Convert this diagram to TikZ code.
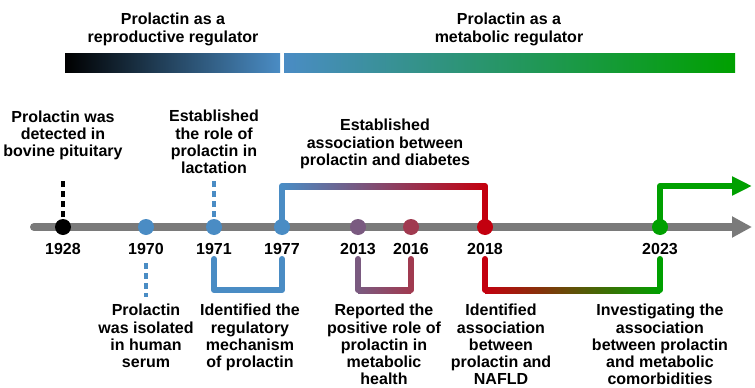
\documentclass[tikz,border=0pt]{standalone}
\usepackage{fontspec}
\setmainfont{Liberation Sans}
\usetikzlibrary{arrows.meta,calc}
\definecolor{cBlue}{RGB}{74,140,196}
\definecolor{cPurple}{RGB}{122,90,128}
\definecolor{cRose}{RGB}{160,58,80}
\definecolor{cMid}{RGB}{150,62,92}
\definecolor{cRed}{RGB}{195,0,15}
\definecolor{cGreen}{RGB}{0,160,0}
\definecolor{cGray}{RGB}{122,122,122}
\definecolor{cTeal}{RGB}{40,152,112}
\definecolor{cBrown}{RGB}{120,70,0}
\begin{document}
\begin{tikzpicture}[x=1pt,y=-1pt,
  dot/.style={circle,fill=#1,minimum size=16pt,inner sep=0pt},
  yr/.style={font=\fontsize{16}{16}\selectfont\bfseries,anchor=north,inner sep=0pt},
  txt/.style={font=\fontsize{16}{17.3}\selectfont\bfseries,align=center,anchor=north,inner sep=0pt},
  leg/.style={line width=6pt,line cap=round,line join=round,draw=#1},
  dsh/.style={line width=3.6pt,dash pattern=on 6pt off 4pt,draw=#1}]
\useasboundingbox (0,0) rectangle (755,388);
% top phase bars
\shade[left color=black,right color=cBlue] (65,53) rectangle (280,72);
\shade[left color=cBlue,middle color=cTeal,right color=cGreen] (284,53) rectangle (735,72);
\node[txt] (ph1) at (173,13) {Prolactin as a\\reproductive regulator};
\node[txt] (ph2) at (509,13) {Prolactin as a\\metabolic regulator};
% timeline
\coordinate (tlS) at (34,227);
\coordinate (tlE) at (752,227);
\draw[cGray,line width=8pt,line cap=round,-{Triangle[length=20pt,width=20pt]}] (tlS) -- (tlE);
% dot positions
\coordinate (p1928) at (63,227);
\coordinate (p1970) at (146,227);
\coordinate (p1971) at (214,227);
\coordinate (p1977) at (282,227);
\coordinate (p2013) at (358,227);
\coordinate (p2016) at (411,227);
\coordinate (p2018) at (485,227);
\coordinate (p2023) at (660,227);
% dashed markers
\draw[dsh=black] (p1928) -- ($(p1928)+(0,-46)$);
\draw[dsh=cBlue] (p1971) -- ($(p1971)+(0,-47)$);
\draw[dsh=cBlue] ($(p1970)+(0,36)$) -- ($(p1970)+(0,70)$);
% top bracket 1977-2018
\draw[leg=cBlue] (p1977) -- ($(p1977)+(0,-41)$);
\shade[left color=cBlue,middle color=cMid,right color=cRed] ($(p1977)+(0,-44)$) rectangle ($(p2018)+(0,-38)$);
\draw[leg=cRed] ($(p2018)+(0,-41)$) -- (p2018);
% green arrow
\coordinate (gEnd) at (752,186);
\draw[cGreen,line width=6pt,line join=round,-{Triangle[length=20pt,width=18pt]}] (p2023) |- (gEnd);
% bottom brackets
\draw[leg=cBlue] ($(p1971)+(0,32)$) -- ($(p1971)+(0,63)$) -- ($(p1977)+(0,63)$) -- ($(p1977)+(0,32)$);
\draw[leg=cPurple] ($(p2013)+(0,32)$) -- ($(p2013)+(0,63)$);
\draw[leg=cRose] ($(p2016)+(0,32)$) -- ($(p2016)+(0,63)$);
\shade[left color=cPurple,right color=cRose] ($(p2013)+(0,60)$) rectangle ($(p2016)+(0,66)$);
\draw[leg=cRed] ($(p2018)+(0,32)$) -- ($(p2018)+(0,63)$);
\draw[leg=cGreen] ($(p2023)+(0,32)$) -- ($(p2023)+(0,63)$);
\shade[left color=cRed,middle color=cBrown,right color=cGreen] ($(p2018)+(0,60)$) rectangle ($(p2023)+(0,66)$);
% dots
\node[dot=black] (d1928) at (p1928) {};
\node[dot=cBlue] (d1970) at (p1970) {};
\node[dot=cBlue] (d1971) at (p1971) {};
\node[dot=cBlue] (d1977) at (p1977) {};
\node[dot=cPurple] (d2013) at (p2013) {};
\node[dot=cRose] (d2016) at (p2016) {};
\node[dot=cRed] (d2018) at (p2018) {};
\node[dot=cGreen] (d2023) at (p2023) {};
% years
\node[yr] (y1928) at ($(p1928)+(0,16)$) {1928};
\node[yr] (y1970) at ($(p1970)+(0,16)$) {1970};
\node[yr] (y1971) at ($(p1971)+(0,16)$) {1971};
\node[yr] (y1977) at ($(p1977)+(0,16)$) {1977};
\node[yr] (y2013) at ($(p2013)+(0,16)$) {2013};
\node[yr] (y2016) at ($(p2016)+(0,16)$) {2016};
\node[yr] (y2018) at ($(p2018)+(0,16)$) {2018};
\node[yr] (y2023) at ($(p2023)+(0,16)$) {2023};
% event texts above
\node[txt] (e1928) at (63,110.5) {Prolactin was\\detected in\\bovine pituitary};
\node[txt] (e1971) at (214,110) {Established\\the role of\\prolactin in\\lactation};
\node[txt] (e1977) at (385,119) {Established\\association between\\prolactin and diabetes};
% event texts below
\node[txt] (e1970) at (146,304) {Prolactin\\was isolated\\in human\\serum};
\node[txt] (e1971b) at (250,304) {Identified the\\regulatory\\mechanism\\of prolactin};
\node[txt] (e2013) at (384,304) {Reported the\\positive role of\\prolactin in\\metabolic\\health};
\node[txt] (e2018) at (501,304) {Identified\\association\\between\\prolactin and\\NAFLD};
\node[txt] (e2023) at (660,304) {Investigating the\\association\\between prolactin\\and metabolic\\comorbidities};
\end{tikzpicture}
\end{document}
